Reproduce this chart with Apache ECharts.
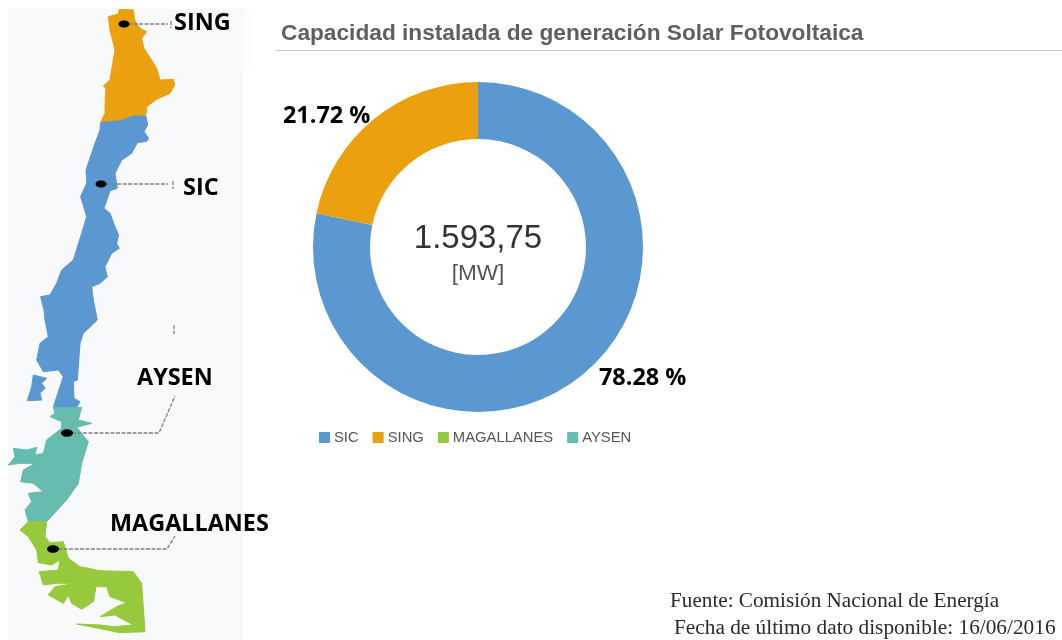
<!DOCTYPE html>
<html><head><meta charset="utf-8">
<style>html,body{margin:0;padding:0;background:#fff}#c{width:1062px;height:640px}</style>
<script src="https://cdn.jsdelivr.net/npm/echarts@6/dist/echarts.min.js"></script>
</head><body><div id="c"></div>
<script>
const categories = ['SIC', 'SING', 'MAGALLANES', 'AYSEN'];
const shares = [78.28, 21.72, 0, 0];
const colors = ['#5b97d0', '#eba00f', '#97c93d', '#67bcb0'];
const totalText = '1.593,75';
const unitText = '[MW]';

// Decorative map outlines, traced from the 3x zoom (divided by 3 when drawn)
const mapSING = [358,28,400,30,404,60,420,85,440,95,425,115,432,145,445,165,470,205,480,240,520,238,524,255,510,280,470,298,440,320,438,345,400,348,360,362,302,368,315,340,316,290,318,265,310,258,330,240,338,190,345,150,330,90,325,50,355,42];
const mapSIC = [302,368,360,362,400,348,438,348,443,375,432,395,446,415,440,424,412,428,395,460,365,480,345,520,352,565,330,572,312,625,330,640,345,680,356,705,350,730,358,745,335,760,315,800,322,830,300,850,275,860,280,900,292,960,250,1000,240,1030,232,1140,220,1145,222,1195,240,1205,230,1222,160,1222,175,1175,190,1130,175,1110,130,1115,110,1080,120,1030,145,1010,135,960,132,930,122,890,150,885,170,850,185,810,220,780,245,700,260,650,242,590,260,550,258,510,285,430,300,390];
const mapSICisland = [100,1125,140,1135,125,1150,135,1165,120,1180,125,1200,82,1202,95,1160];
const mapAYSEN = [160,1222,245,1222,235,1260,275,1270,230,1282,265,1325,245,1390,235,1450,200,1500,140,1565,85,1565,75,1530,95,1505,85,1480,130,1475,100,1450,62,1445,70,1410,105,1390,60,1390,25,1395,45,1370,40,1345,80,1350,110,1342,105,1365,130,1360,140,1320,185,1285,185,1265,150,1250,165,1240];
const mapMAG = [85,1565,140,1565,135,1610,150,1628,190,1625,205,1675,240,1700,300,1712,400,1715,425,1750,435,1895,360,1898,230,1872,300,1875,340,1880,400,1875,345,1845,300,1850,350,1820,380,1808,330,1790,320,1760,288,1760,280,1805,245,1828,215,1810,205,1785,190,1810,145,1785,165,1760,225,1750,170,1750,130,1755,118,1715,175,1710,180,1680,155,1695,115,1688,110,1650,85,1610,60,1590];

function poly(flat, fill) {
  const points = [];
  for (let i = 0; i < flat.length; i += 2) points.push([flat[i] / 3, flat[i + 1] / 3]);
  return { type: 'polygon', silent: true, shape: { points }, style: { fill, stroke: fill, lineWidth: 1, lineJoin: 'round' } };
}
function dash(points) {
  return { type: 'polyline', silent: true, shape: { points }, style: { fill: null, stroke: '#808080', lineWidth: 1.3, lineDash: [4, 1.5] } };
}
function dot(cx, cy, rx, ry) {
  return { type: 'ellipse', silent: true, shape: { cx, cy, rx: rx, ry: ry }, style: { fill: '#000' } };
}
function label(text, x, y, fontSize, fontFamily, fontWeight, fill) {
  return { type: 'text', silent: true, style: { text, x, y, fontSize, fontFamily, fontWeight, fill, textVerticalAlign: 'middle' } };
}
const bold = '"Open Sans","Noto Sans",sans-serif';
const serif = '"Liberation Serif",serif';

const graphics = [
  { type: 'rect', silent: true, shape: { x: 8, y: 9, width: 235, height: 631 }, style: { fill: '#f8f9fb' } },
  { type: 'rect', silent: true, shape: { x: 243, y: 9, width: 10, height: 60, r: [0, 8, 8, 0] }, style: { fill: '#fbfcfd' } },
  poly(mapSING, colors[1]), poly(mapSIC, colors[0]), poly(mapSICisland, colors[0]),
  poly(mapAYSEN, colors[3]), poly(mapMAG, colors[2]),
  dash([[128, 24], [168, 24]]), dash([[106, 184], [168, 184]]), dot(124, 24, 5.5, 3.5), dot(101, 184, 5.5, 3.5),
  dash([[173, 181], [173, 189]]), dash([[171, 21], [171, 28]]), dash([[174, 325], [174, 334]]),
  dash([[72, 433], [159, 433], [175, 396]]), dot(67, 433, 6, 3.8),
  dash([[58, 549], [167, 549], [175, 536]]), dot(53, 549, 6, 3.8),
  label('SING', 174, 23, 23.4, bold, 700, '#000'),
  label('SIC', 183, 188, 23.4, bold, 700, '#000'),
  label('AYSEN', 137, 378, 23.4, bold, 700, '#000'),
  label('MAGALLANES', 110, 524, 23.4, bold, 700, '#000'),
  label('Capacidad instalada de generación Solar Fotovoltaica', 281, 34, 22.7, '"Liberation Sans",sans-serif', 'bold', '#5f5f5f'),
  { type: 'rect', silent: true, shape: { x: 275, y: 50, width: 787, height: 1 }, style: { fill: '#ccc' } },
  label('21.72 %', 283, 116, 23.4, bold, 700, '#000'),
  label('78.28 %', 599, 378, 23.4, bold, 700, '#000'),
  label('Fuente: Comisión Nacional de Energía', 670, 601, 21.2, serif, 'normal', '#2a2a2a'),
  label('Fecha de último dato disponible: 16/06/2016', 674, 628, 21.3, serif, 'normal', '#2a2a2a')
];

const chart = echarts.init(document.getElementById('c'));
chart.setOption({
  animation: false,
  color: colors,
  legend: {
    data: categories, left: 314, top: 425, itemWidth: 11, itemHeight: 11, itemGap: 14,
    icon: 'rect', selectedMode: false,
    textStyle: { fontFamily: '"Liberation Sans",sans-serif', fontSize: 14.8, color: '#555', padding: [0, 0, 0, -1] }
  },
  graphic: { elements: graphics },
  series: [{
    type: 'pie', center: [478, 247], radius: [108, 165], startAngle: 90, clockwise: true,
    silent: true, label: { show: false }, labelLine: { show: false },
    data: categories.map((name, i) => ({ name, value: shares[i] }))
  }, {
    type: 'pie', center: [478, 254], radius: [0, 0], silent: true, z: 5,
    label: { position: 'center', formatter: '{a|' + totalText + '}\n{b|' + unitText + '}',
      rich: { a: { fontFamily: '"Liberation Sans",sans-serif', fontSize: 33, color: '#333', lineHeight: 40 },
              b: { fontFamily: '"Liberation Sans",sans-serif', fontSize: 22.6, color: '#555', lineHeight: 30 } } },
    labelLine: { show: false },
    data: [{ name: 'total', value: 1 }]
  }]
});
</script></body></html>
